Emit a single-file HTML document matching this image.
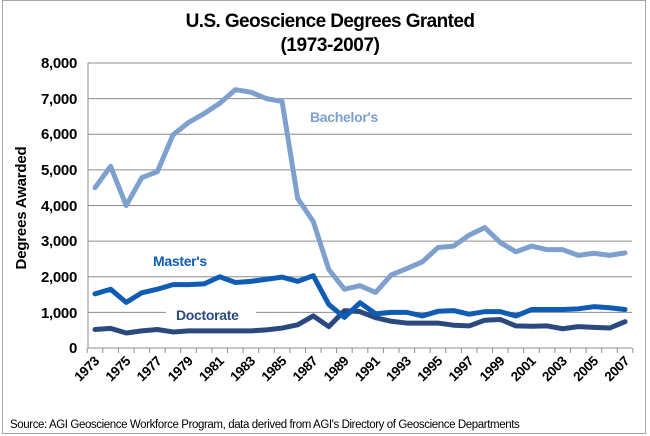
<!DOCTYPE html>
<html><head><meta charset="utf-8"><style>
html,body{margin:0;padding:0;background:#fff;}
svg{display:block;font-family:"Liberation Sans",Arial,sans-serif;}
</style></head><body>
<svg width="650" height="436" viewBox="0 0 650 436" xmlns="http://www.w3.org/2000/svg">
<rect x="2.5" y="0.5" width="643" height="433" fill="#fff" stroke="#a6a6a6"/>
<text x="330" y="27" text-anchor="middle" font-size="19" font-weight="bold" letter-spacing="-0.6">U.S. Geoscience Degrees Granted</text>
<text x="330" y="51" text-anchor="middle" font-size="19" font-weight="bold" letter-spacing="-0.4">(1973-2007)</text>
<g stroke="#8c8c8c" stroke-width="1">
<line x1="88" y1="63" x2="632" y2="63"/><line x1="88" y1="98.6" x2="632" y2="98.6"/><line x1="88" y1="134.3" x2="632" y2="134.3"/><line x1="88" y1="169.9" x2="632" y2="169.9"/><line x1="88" y1="205.5" x2="632" y2="205.5"/><line x1="88" y1="241.1" x2="632" y2="241.1"/><line x1="88" y1="276.8" x2="632" y2="276.8"/><line x1="88" y1="312.4" x2="632" y2="312.4"/><line x1="88" y1="348" x2="632" y2="348"/>
<line x1="88" y1="63" x2="88" y2="348"/>
</g>
<g stroke="#8c8c8c" stroke-width="1">
<path d="M87.2 348v5M102.8 348v5M118.4 348v5M134 348v5M149.6 348v5M165.2 348v5M180.7 348v5M196.3 348v5M211.9 348v5M227.5 348v5M243.1 348v5M258.7 348v5M274.3 348v5M289.9 348v5M305.5 348v5M321.1 348v5M336.6 348v5M352.2 348v5M367.8 348v5M383.4 348v5M399 348v5M414.6 348v5M430.2 348v5M445.8 348v5M461.4 348v5M477 348v5M492.5 348v5M508.1 348v5M523.7 348v5M539.3 348v5M554.9 348v5M570.5 348v5M586.1 348v5M601.7 348v5M617.3 348v5M632.8 348v5"/>
</g>
<g font-size="15" font-weight="bold" text-anchor="end" fill="#000" letter-spacing="-0.3">
<text x="77" y="68">8,000</text><text x="77" y="104">7,000</text><text x="77" y="139">6,000</text><text x="77" y="175">5,000</text><text x="77" y="211">4,000</text><text x="77" y="246">3,000</text><text x="77" y="282">2,000</text><text x="77" y="318">1,000</text><text x="77" y="353">0</text>
</g>
<text transform="translate(26,208) rotate(-90)" text-anchor="middle" font-size="15" font-weight="bold" letter-spacing="-0.2">Degrees Awarded</text>
<g font-size="13.5" font-weight="bold" text-anchor="end" letter-spacing="-0.4">
<text transform="translate(100,362) rotate(-45)">1973</text>
<text transform="translate(131.2,362) rotate(-45)">1975</text>
<text transform="translate(162.4,362) rotate(-45)">1977</text>
<text transform="translate(193.5,362) rotate(-45)">1979</text>
<text transform="translate(224.7,362) rotate(-45)">1981</text>
<text transform="translate(255.9,362) rotate(-45)">1983</text>
<text transform="translate(287.1,362) rotate(-45)">1985</text>
<text transform="translate(318.3,362) rotate(-45)">1987</text>
<text transform="translate(349.4,362) rotate(-45)">1989</text>
<text transform="translate(380.6,362) rotate(-45)">1991</text>
<text transform="translate(411.8,362) rotate(-45)">1993</text>
<text transform="translate(443,362) rotate(-45)">1995</text>
<text transform="translate(474.2,362) rotate(-45)">1997</text>
<text transform="translate(505.3,362) rotate(-45)">1999</text>
<text transform="translate(536.5,362) rotate(-45)">2001</text>
<text transform="translate(567.7,362) rotate(-45)">2003</text>
<text transform="translate(598.9,362) rotate(-45)">2005</text>
<text transform="translate(630.1,362) rotate(-45)">2007</text>
</g>
<rect x="166" y="305" width="90" height="16" fill="#fff"/>
<g transform="translate(95,348) scale(15.59,-0.035625)" fill="none" stroke-linejoin="round" stroke-linecap="round">
<polyline vector-effect="non-scaling-stroke" stroke="#7ea0cf" stroke-width="5" points="0,4500 1,5100 2,4000 3,4780 4,4950 5,5980 6,6330 7,6580 8,6870 9,7250 10,7180 11,7000 12,6920 13,4200 14,3550 15,2200 16,1650 17,1750 18,1560 19,2050 20,2230 21,2420 22,2820 23,2860 24,3170 25,3380 26,2960 27,2700 28,2860 29,2760 30,2760 31,2600 32,2660 33,2600 34,2670"/>
<polyline vector-effect="non-scaling-stroke" stroke="#2a4a7f" stroke-width="5" points="0,520 1,550 2,420 3,480 4,520 5,450 6,480 7,480 8,480 9,480 10,480 11,510 12,560 13,650 14,900 15,600 16,1050 17,1020 18,850 19,750 20,700 21,700 22,700 23,640 24,620 25,780 26,800 27,620 28,610 29,620 30,540 31,600 32,580 33,560 34,740"/>
<polyline vector-effect="non-scaling-stroke" stroke="#0f5cb4" stroke-width="5" points="0,1520 1,1650 2,1280 3,1550 4,1650 5,1780 6,1780 7,1800 8,2000 9,1840 10,1870 11,1930 12,1990 13,1870 14,2030 15,1220 16,860 17,1270 18,960 19,1000 20,1000 21,900 22,1030 23,1050 24,950 25,1020 26,1020 27,900 28,1080 29,1080 30,1080 31,1100 32,1160 33,1130 34,1080"/>
</g>
<text x="310" y="122" font-size="14" font-weight="bold" fill="#7ea0cf" letter-spacing="-0.3">Bachelor's</text>
<text x="153" y="266" font-size="14" font-weight="bold" fill="#0f5cb4" letter-spacing="-0.3">Master's</text>
<text x="176" y="320" font-size="14" font-weight="bold" fill="#2a4a7f" letter-spacing="-0.3">Doctorate</text>
<text x="10" y="428" font-size="11.5" fill="#000" letter-spacing="-0.4">Source: AGI Geoscience Workforce Program, data derived from AGI's Directory of Geoscience Departments</text>
</svg>
</body></html>
